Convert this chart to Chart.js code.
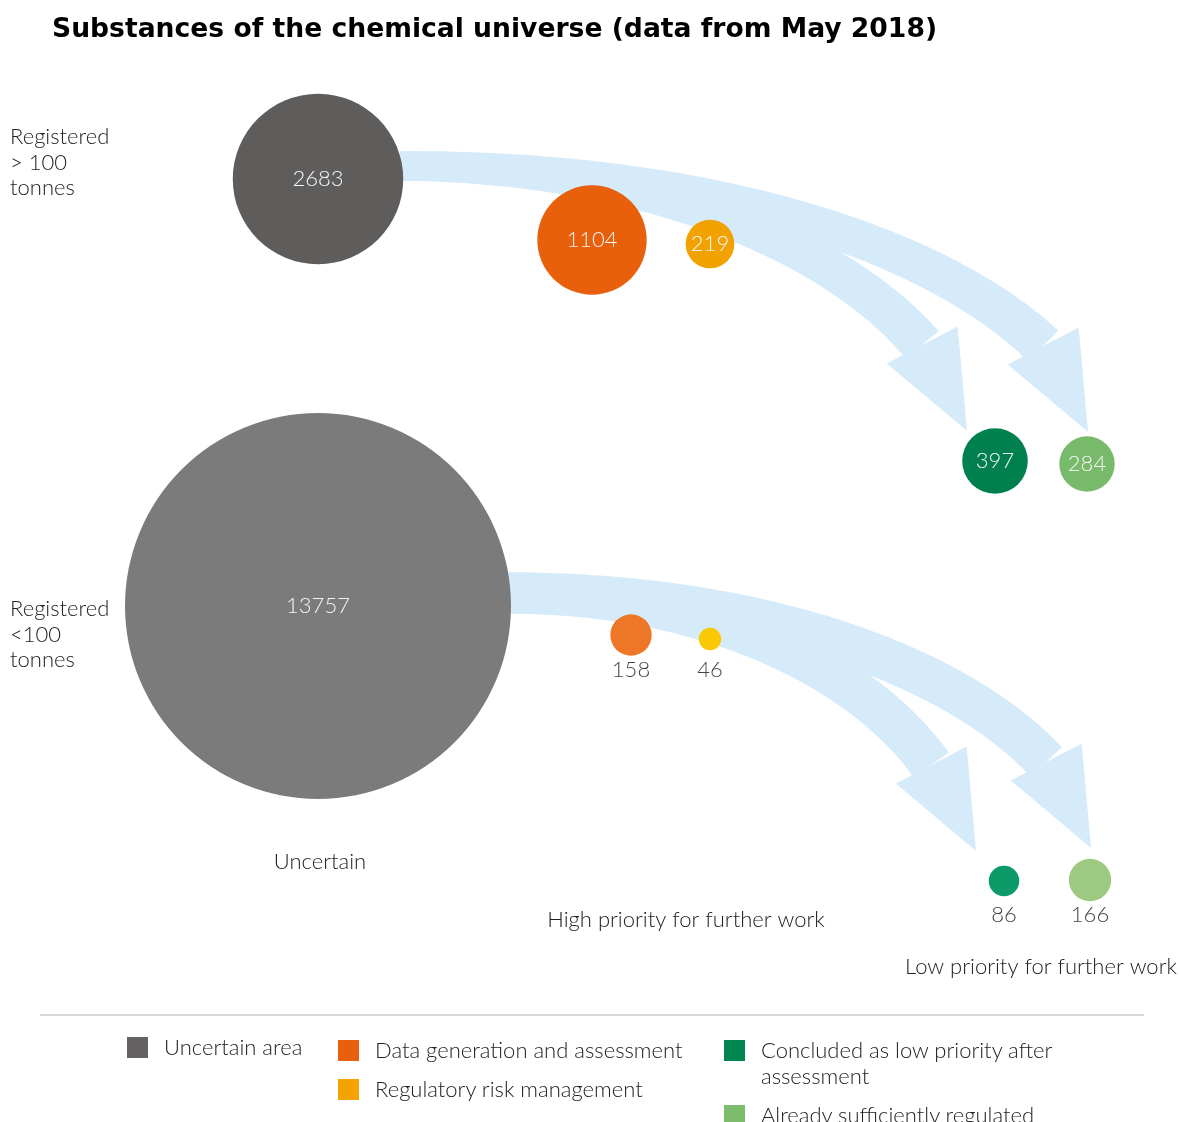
<!DOCTYPE html>
<html>
<head>
<meta charset="utf-8">
<title>Substances of the chemical universe</title>
<script src="https://cdn.jsdelivr.net/npm/chart.js@4/dist/chart.umd.min.js"></script>
<style>
  html, body { margin: 0; padding: 0; background: #fff; }
  #wrap { position: relative; width: 1180px; height: 1122px; overflow: hidden; }
  #chart { position: absolute; left: 0; top: 0; }
  h1 { position: absolute; left: 52px; top: 12px; margin: 0; font: bold 26.6px "DejaVu Sans", Verdana, sans-serif; color: #000; white-space: nowrap; }
  #rule { position: absolute; left: 40px; top: 1014px; width: 1104px; height: 2px; background: #d8d8d8; }
  .lcol { position: absolute; }
  .litem { position: relative; padding-left: 37px; font: 300 22px Lato, sans-serif; line-height: 26px; color: #222; margin-bottom: 13px; }
  .lsw { position: absolute; left: 0; top: 3px; width: 21px; height: 21px; }
</style>
</head>
<body>
<div id="wrap">
  <canvas id="chart" width="1180" height="1122"></canvas>
  <h1>Substances of the chemical universe (data from May 2018)</h1>
  <div id="rule"></div>
  <div id="legend"></div>
</div>
<script>
// ---- data -------------------------------------------------------------
const stages = [
  'Uncertain area',
  'Data generation and assessment',
  'Regulatory risk management',
  'Concluded as low priority after assessment',
  'Already sufficiently regulated'
];
const stageGroups = [
  'Uncertain',
  'High priority for further work',
  'High priority for further work',
  'Low priority for further work',
  'Low priority for further work'
];
const tonnageBands = [['Registered', '> 100', 'tonnes'], ['Registered', '<100', 'tonnes']];
const above100t = [2683, 1104, 219, 397, 284];   // substances registered > 100 tonnes
const below100t = [13757, 158, 46, 86, 166];     // substances registered < 100 tonnes

// ---- layout (diagram units, 1 unit = 1 px of the canvas) ----------------
const layoutX = [[318, 592, 710, 995, 1087], [318, 631, 710, 1004, 1090]];
const layoutY = [[179, 240, 244, 461, 464], [606, 635, 639, 881, 880]];
const bandLabelPos = [[10, 137], [10, 609]];
const groupCaptionPos = {
  'Uncertain': [320, 862],
  'High priority for further work': [686, 920],
  'Low priority for further work': [1041, 967]
};
const legendColumns = [[0], [1, 2], [3, 4]];
const legendColumnPos = [[127, 1034], [338, 1037], [724, 1037]];

// ---- styles -------------------------------------------------------------
const bubbleColors = [
  ['#5f5c5c', '#7b7b7b'],
  ['#e85f0c', '#ee7627'],
  ['#f2a200', '#fbc806'],
  ['#00804f', '#0c9a68'],
  ['#77bb6a', '#9dca80']
];
const legendColors = ['#646262', '#e85f0c', '#f4a300', '#008450', '#7bbd6c'];
const FLOW_COLOR = '#d6ebfa';
const LABEL_FONT = '300 22px Lato, sans-serif';
const AREA_SCALE = 1.6455;           // radius = AREA_SCALE * sqrt(count)

// flows leave the uncertain bubble and end in the low priority bubbles
const flows = [
  { from: 0, to: 4 }, { from: 0, to: 3 }
];
const flowTipOffset = { 3: [-28, -30], 4: [1, -32] };

// ---- datasets -----------------------------------------------------------
const rows = [above100t, below100t];
const datasets = stages.map((name, s) => ({
  label: name,
  data: rows.map((vals, r) => ({
    x: layoutX[r][s],
    y: layoutY[r][s],
    r: AREA_SCALE * Math.sqrt(vals[s]),
    v: vals[s]
  })),
  backgroundColor: bubbleColors[s],
  borderWidth: 0,
  hoverBorderWidth: 0,
  hoverRadius: 0,
  clip: false
}));

function bez(p0, c1, c2, p3, t) {
  const u = 1 - t;
  return {
    x: u*u*u*p0.x + 3*u*u*t*c1.x + 3*u*t*t*c2.x + t*t*t*p3.x,
    y: u*u*u*p0.y + 3*u*u*t*c1.y + 3*u*t*t*c2.y + t*t*t*p3.y,
    dx: 3*u*u*(c1.x-p0.x) + 6*u*t*(c2.x-c1.x) + 3*t*t*(p3.x-c2.x),
    dy: 3*u*u*(c1.y-p0.y) + 6*u*t*(c2.y-c1.y) + 3*t*t*(p3.y-c2.y)
  };
}

function drawFlow(ctx, start, tip, w0, w1) {
  const a = 62.5 * Math.PI / 180;
  const dir = { x: Math.cos(a), y: Math.sin(a) };
  const headLen = 97, headHalf = 40;
  const base = { x: tip.x - dir.x * headLen, y: tip.y - dir.y * headLen };
  const dx = base.x - start.x, dy = base.y - start.y;
  const c1 = { x: start.x + 0.48 * dx, y: start.y };
  const c2 = { x: base.x - 0.16 * dx, y: base.y - 0.55 * dy };
  const left = [], right = [];
  const N = 80;
  for (let i = 0; i <= N; i++) {
    const t = i / N;
    const p = bez(start, c1, c2, base, t);
    const len = Math.hypot(p.dx, p.dy) || 1;
    const nx = -p.dy / len, ny = p.dx / len;
    const w = (w0 + (w1 - w0) * t) / 2;
    left.push([p.x + nx * w, p.y + ny * w]);
    right.push([p.x - nx * w, p.y - ny * w]);
  }
  ctx.beginPath();
  ctx.moveTo(left[0][0], left[0][1]);
  left.forEach(q => ctx.lineTo(q[0], q[1]));
  right.reverse().forEach(q => ctx.lineTo(q[0], q[1]));
  ctx.closePath();
  ctx.fill();
  ctx.beginPath();
  ctx.moveTo(base.x - dir.y * headHalf, base.y + dir.x * headHalf);
  ctx.lineTo(tip.x, tip.y);
  ctx.lineTo(base.x + dir.y * headHalf, base.y - dir.x * headHalf);
  ctx.closePath();
  ctx.fill();
}

const flowPlugin = {
  id: 'flows',
  beforeDatasetsDraw(chart) {
    const ctx = chart.ctx;
    ctx.save();
    ctx.fillStyle = FLOW_COLOR;
    for (let row = 0; row < rows.length; row++) {
      for (const f of flows) {
        const src = chart.getDatasetMeta(f.from).data[row];
        const dst = chart.getDatasetMeta(f.to).data[row];
        const rs = chart.data.datasets[f.from].data[row].r;
        const start = { x: src.x + rs - 3, y: src.y - 13 };
        const off = flowTipOffset[f.to];
        const tip = { x: dst.x + off[0], y: dst.y + off[1] };
        drawFlow(ctx, start, tip, 20 + 0.11 * rs, 43);
      }
    }
    ctx.restore();
  }
};

const labelPlugin = {
  id: 'labels',
  afterDatasetsDraw(chart) {
    const ctx = chart.ctx;
    ctx.save();
    ctx.font = LABEL_FONT;
    ctx.textBaseline = 'middle';
    // value labels: inside large bubbles, under small ones
    for (let row = 0; row < rows.length; row++) {
      const groupBottom = {};
      stages.forEach((_, s) => {
        const el = chart.getDatasetMeta(s).data[row];
        const r = chart.data.datasets[s].data[row].r;
        const g = stageGroups[s];
        groupBottom[g] = Math.max(groupBottom[g] || 0, el.y + r);
      });
      stages.forEach((_, s) => {
        const el = chart.getDatasetMeta(s).data[row];
        const d = chart.data.datasets[s].data[row];
        ctx.textAlign = 'center';
        if (d.r >= 23) {
          ctx.fillStyle = '#f4f4f4';
          ctx.fillText(String(d.v), el.x, el.y);
        } else {
          ctx.fillStyle = '#444';
          ctx.fillText(String(d.v), el.x, groupBottom[stageGroups[s]] + 14);
        }
      });
    }
    // tonnage band labels
    ctx.fillStyle = '#222';
    ctx.textAlign = 'left';
    tonnageBands.forEach((lines, i) => {
      const px = chart.scales.x.getPixelForValue(bandLabelPos[i][0]);
      const py = chart.scales.y.getPixelForValue(bandLabelPos[i][1]);
      lines.forEach((t, k) => ctx.fillText(t, px, py + k * 25.5));
    });
    // group captions
    ctx.textAlign = 'center';
    Object.keys(groupCaptionPos).forEach(g => {
      const p = groupCaptionPos[g];
      ctx.fillText(g, chart.scales.x.getPixelForValue(p[0]), chart.scales.y.getPixelForValue(p[1]));
    });
    ctx.restore();
  }
};

new Chart(document.getElementById('chart'), {
  type: 'bubble',
  data: { datasets },
  options: {
    responsive: false,
    animation: false,
    events: [],
    layout: { padding: 0, autoPadding: false },
    plugins: { legend: { display: false }, tooltip: { enabled: false }, title: { display: false } },
    scales: {
      x: { type: 'linear', min: 0, max: 1180, display: false },
      y: { type: 'linear', min: 0, max: 1122, reverse: true, display: false }
    }
  },
  plugins: [flowPlugin, labelPlugin]
});

// legend built from the stage names and colours
const legend = document.getElementById('legend');
legendColumns.forEach((col, c) => {
  const div = document.createElement('div');
  div.className = 'lcol';
  div.style.left = legendColumnPos[c][0] + 'px';
  div.style.top = legendColumnPos[c][1] + 'px';
  div.style.width = c === 2 ? '345px' : 'auto';
  col.forEach(s => {
    const item = document.createElement('div');
    item.className = 'litem';
    const sw = document.createElement('span');
    sw.className = 'lsw';
    sw.style.background = legendColors[s];
    item.appendChild(sw);
    item.appendChild(document.createTextNode(stages[s]));
    div.appendChild(item);
  });
  legend.appendChild(div);
});
</script>
</body>
</html>
